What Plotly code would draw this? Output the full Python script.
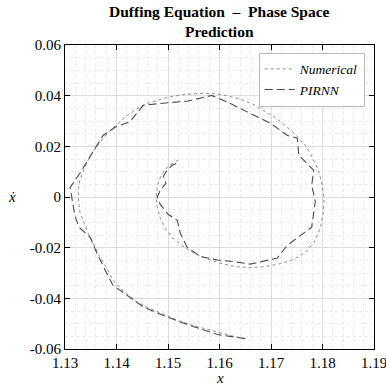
import plotly.graph_objects as go

# Duffing oscillator: reference numerical trajectory in the (x, x_dot) phase plane
num_x = [1.1650, 1.1617, 1.1582, 1.1547, 1.1518, 1.1485, 1.1456, 1.1434, 1.1411, 1.1393,
         1.1380, 1.1366, 1.1354, 1.1345, 1.1337, 1.1329, 1.1326, 1.1326, 1.1329, 1.1335,
         1.1345, 1.1356, 1.1368, 1.1384, 1.1399, 1.1419, 1.1438, 1.1459, 1.1485, 1.1508,
         1.1533, 1.1563, 1.1588, 1.1611, 1.1636, 1.1662, 1.1685, 1.1708, 1.1730, 1.1749,
         1.1767, 1.1780, 1.1792, 1.1799, 1.1803, 1.1802, 1.1796, 1.1784, 1.1767, 1.1743,
         1.1718, 1.1689, 1.1660, 1.1631, 1.1601, 1.1572, 1.1547, 1.1526, 1.1508, 1.1494,
         1.1485, 1.1479, 1.1477, 1.1479, 1.1483, 1.1491, 1.1500, 1.1512, 1.1522]
num_v = [-0.0559, -0.0545, -0.0525, -0.0507, -0.0486, -0.0458, -0.0432, -0.0407, -0.0367, -0.0328,
         -0.0277, -0.0230, -0.0182, -0.0143, -0.0103, -0.0060, -0.0013, 0.0034, 0.0066, 0.0101,
         0.0145, 0.0184, 0.0216, 0.0255, 0.0283, 0.0318, 0.0346, 0.0369, 0.0385, 0.0397,
         0.0405, 0.0409, 0.0409, 0.0401, 0.0389, 0.0369, 0.0342, 0.0314, 0.0279, 0.0243,
         0.0204, 0.0157, 0.0105, 0.0050, -0.0005, -0.0056, -0.0123, -0.0178, -0.0218, -0.0247,
         -0.0263, -0.0275, -0.0279, -0.0275, -0.0261, -0.0241, -0.0218, -0.0190, -0.0159, -0.0123,
         -0.0084, -0.0040, -0.0001, 0.0038, 0.0070, 0.0098, 0.0121, 0.0137, 0.0149]

# PIRNN prediction of the same trajectory
pir_x = [1.1650, 1.1596, 1.1543, 1.1498, 1.1452, 1.1421, 1.1393, 1.1378, 1.1362, 1.1349,
         1.1327, 1.1319, 1.1314, 1.1310, 1.1329, 1.1345, 1.1362, 1.1374, 1.1397, 1.1426,
         1.1452, 1.1485, 1.1539, 1.1585, 1.1615, 1.1654, 1.1699, 1.1732, 1.1751, 1.1754,
         1.1783, 1.1779, 1.1786, 1.1779, 1.1757, 1.1732, 1.1712, 1.1685, 1.1660, 1.1627,
         1.1596, 1.1563, 1.1537, 1.1524, 1.1518, 1.1500, 1.1485, 1.1479, 1.1485, 1.1496,
         1.1491, 1.1498, 1.1508, 1.1522]
pir_v = [-0.0559, -0.0543, -0.0507, -0.0474, -0.0434, -0.0387, -0.0348, -0.0289, -0.0222, -0.0159,
         -0.0119, -0.0072, -0.0005, 0.0038, 0.0094, 0.0145, 0.0204, 0.0243, 0.0275, 0.0297,
         0.0362, 0.0369, 0.0379, 0.0401, 0.0375, 0.0336, 0.0291, 0.0243, 0.0232, 0.0165,
         0.0105, 0.0046, -0.0017, -0.0119, -0.0151, -0.0190, -0.0241, -0.0255, -0.0265, -0.0255,
         -0.0249, -0.0235, -0.0198, -0.0143, -0.0092, -0.0068, -0.0029, -0.0001, 0.0027, 0.0054,
         0.0082, 0.0105, 0.0125, 0.0137]

x_ticks = [1.13, 1.14, 1.15, 1.16, 1.17, 1.18, 1.19]
x_tick_text = ["1.13", "1.14", "1.15", "1.16", "1.17", "1.18", "1.19"]
y_ticks = [-0.06, -0.04, -0.02, 0.0, 0.02, 0.04, 0.06]
y_tick_text = ["-0.06", "-0.04", "-0.02", "0", "0.02", "0.04", "0.06"]

SERIF = "Liberation Serif, DejaVu Serif, serif"

fig = go.Figure()
fig.add_trace(go.Scatter(
    x=num_x, y=num_v, mode="lines", name="<i>Numerical</i>",
    line=dict(color="#8a8a8a", width=1, dash="dot"),
))
fig.add_trace(go.Scatter(
    x=pir_x, y=pir_v, mode="lines", name="<i>PIRNN</i>",
    line=dict(color="#4a4a4a", width=1.1, dash="8px,4px"),
))

axis_common = dict(
    showline=True, linecolor="black", linewidth=1.2, mirror="ticks",
    ticks="inside", ticklen=5, tickcolor="black", tickwidth=1,
    showgrid=True, gridcolor="#dcdcdc", gridwidth=1.3,
    zeroline=False, ticklabeloverflow="allow", automargin=False,
    tickfont=dict(family=SERIF, size=15, color="black"),
)

fig.update_xaxes(
    range=[1.13, 1.19], tickvals=x_ticks, ticktext=x_tick_text,
    minor=dict(dtick=0.002, showgrid=True, gridcolor="#e9e9e9", griddash="dot", gridwidth=1, ticks=""),
    **axis_common,
)
fig.update_yaxes(
    range=[-0.06, 0.06], tickvals=y_ticks, ticktext=y_tick_text,
    minor=dict(dtick=0.005, showgrid=True, gridcolor="#e9e9e9", griddash="dot", gridwidth=1, ticks=""),
    **axis_common,
)

# Title above the plot area, axis labels below and to the left of it
fig.add_annotation(
    text="<b>Duffing Equation  \u2013  Phase Space<br>Prediction</b>",
    xref="paper", yref="paper", x=0.5, y=1, xanchor="center", yanchor="bottom",
    yshift=3, showarrow=False,
    font=dict(family=SERIF, size=15.5, color="black"),
)
fig.add_annotation(
    text="<i>x</i>",
    xref="paper", yref="paper", x=0.5, y=0, xanchor="center", yanchor="middle",
    yshift=-29, showarrow=False,
    font=dict(family=SERIF, size=15, color="black"),
)
fig.add_annotation(
    text="<i>ẋ</i>",
    xref="paper", yref="paper", x=0, y=0.5, xanchor="center", yanchor="middle",
    xshift=-53, showarrow=False,
    font=dict(family=SERIF, size=15, color="black"),
)

fig.update_layout(
    width=386, height=385,
    margin=dict(l=65, r=12, t=45, b=36),
    paper_bgcolor="white", plot_bgcolor="white",
    legend=dict(
        x=0.97, y=0.975, xanchor="right", yanchor="top",
        bgcolor="white", bordercolor="#bbbbbb", borderwidth=1,
        font=dict(family=SERIF, size=13.5, color="black"),
        itemwidth=30, tracegroupgap=0,
    ),
    showlegend=True,
)

fig.write_html("out.html")
